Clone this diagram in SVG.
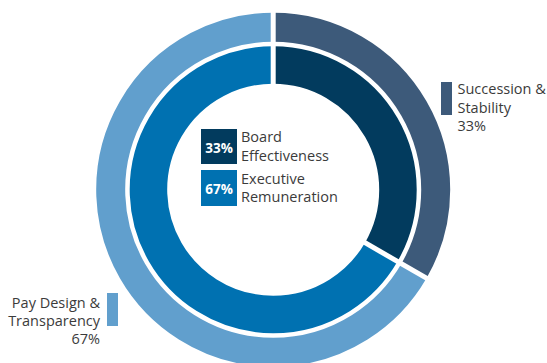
<svg xmlns="http://www.w3.org/2000/svg" width="547" height="363" viewBox="0 0 547 363">
<style>
.lbl{font-family:"Open Sans","Liberation Sans",sans-serif;font-size:14.5px;fill:#3b3b3b}
.pct{font-family:"Open Sans","Liberation Sans",sans-serif;font-size:13.5px;font-weight:bold;fill:#ffffff}
.ring{fill:none}
.gap{stroke:#ffffff;stroke-width:5}
</style>
<rect width="547" height="363" fill="#ffffff"/>
<g id="outer-ring">
<path id="outer-succession" class="ring" stroke="#3d5a7a" stroke-width="29" d="M273.2,27.2 A162.5,162.5 0 0 1 413.93,270.95"/>
<path id="outer-pay" class="ring" stroke="#619fcd" stroke-width="29" d="M413.93,270.95 A162.5,162.5 0 1 1 273.2,27.2"/>
</g>
<g id="inner-ring">
<path id="inner-board" class="ring" stroke="#023b5e" stroke-width="37.5" d="M273.2,64.95 A124.75,124.75 0 0 1 381.24,252.08"/>
<path id="inner-exec" class="ring" stroke="#0071b1" stroke-width="37.5" d="M381.24,252.08 A124.75,124.75 0 1 1 273.2,64.95"/>
</g>
<g id="connectors">
<line class="gap" x1="273.2" y1="100" x2="273.2" y2="0"/>
<line class="gap" x1="359.8" y1="239.7" x2="438.6" y2="285.2"/>
</g>
<g id="legend-board">
<rect x="201" y="129" width="36" height="35" fill="#023b5e"/>
<text class="pct" x="219" y="152.5" text-anchor="middle">33%</text>
<text class="lbl" x="241" y="142">Board</text>
<text class="lbl" x="241" y="161">Effectiveness</text>
</g>
<g id="legend-exec">
<rect x="201" y="170" width="36" height="36" fill="#0071b1"/>
<text class="pct" x="219" y="193.5" text-anchor="middle">67%</text>
<text class="lbl" x="241" y="184">Executive</text>
<text class="lbl" x="241" y="202">Remuneration</text>
</g>
<g id="legend-succession">
<rect x="441" y="82" width="11" height="33" fill="#3d5a7a"/>
<text class="lbl" x="457.5" y="94">Succession &amp;</text>
<text class="lbl" x="457.5" y="112.5">Stability</text>
<text class="lbl" x="457.5" y="130.5">33%</text>
</g>
<g id="legend-pay">
<rect x="107" y="293" width="11" height="33" fill="#619fcd"/>
<text class="lbl" x="100" y="307.5" text-anchor="end">Pay Design &amp;</text>
<text class="lbl" x="100" y="326" text-anchor="end">Transparency</text>
<text class="lbl" x="100" y="343.5" text-anchor="end">67%</text>
</g>
</svg>
